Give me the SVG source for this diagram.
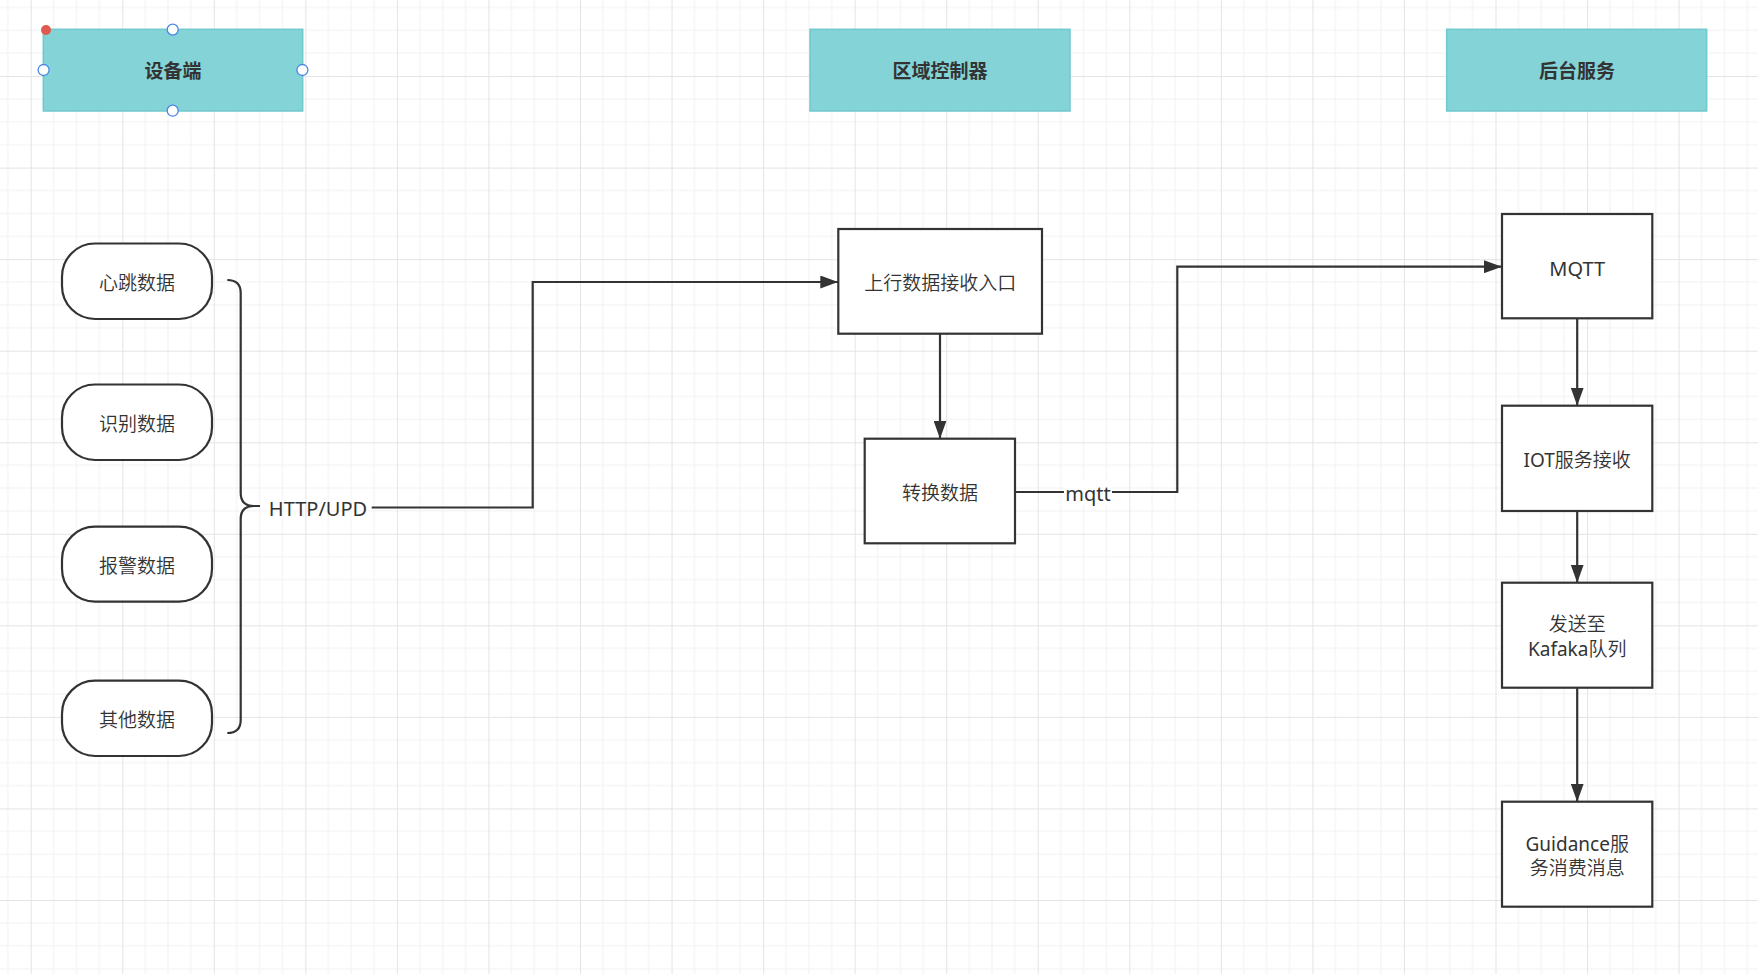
<svg xmlns="http://www.w3.org/2000/svg" width="1758" height="974" viewBox="0 0 1758 974">
  <style>
    .hdr { fill: #83d3d7; stroke: #70c9cd; stroke-width: 1.5; }
    .hdr-t { font-family: "Noto Sans", "Noto Sans CJK SC", sans-serif; font-size: 19px; font-weight: bold; fill: #333333; text-anchor: middle; dominant-baseline: central; }
    .box { fill: #ffffff; stroke: #333333; stroke-width: 2.2; }
    .t { font-family: "Noto Sans", "Noto Sans CJK SC", sans-serif; font-size: 19px; font-weight: 350; fill: #333333; text-anchor: middle; dominant-baseline: central; }
    .lat { font-size: 20px; font-weight: 400; }
    .w4 { font-weight: 400; }
    .edge { fill: none; stroke: #333333; stroke-width: 2.2; }
    .handle { fill: #ffffff; stroke: #4a86e8; stroke-width: 1.3; }
    .lbl-bg { fill: #ffffff; }
  </style>
  <defs>
    <pattern id="grid" patternUnits="userSpaceOnUse" x="30.7" y="-15.5" width="91.55" height="91.55">
      <path d="M22.89 0V91.55M45.78 0V91.55M68.66 0V91.55M0 22.89H91.55M0 45.78H91.55M0 68.66H91.55" stroke="#f1f1f1" stroke-width="1" fill="none"/>
      <path d="M0.5 0V91.55M0 0.5H91.55" stroke="#e4e4e4" stroke-width="1" fill="none"/>
    </pattern>
    <marker id="arrow" markerUnits="userSpaceOnUse" markerWidth="18" markerHeight="13" refX="18" refY="6.5" orient="auto">
      <path d="M0 0L18 6.5L0 13z" fill="#333333"/>
    </marker>
  </defs>

  <rect x="0" y="0" width="1758" height="974" fill="#ffffff"/>
  <rect x="0" y="0" width="1758" height="974" fill="url(#grid)"/>

  <!-- column headers -->
  <g id="hdr-device">
    <rect class="hdr" x="43.3" y="29.3" width="259.4" height="81.7"/>
    <text class="hdr-t" x="173" y="71.3">设备端</text>
  </g>
  <g id="hdr-region">
    <rect class="hdr" x="810" y="29.3" width="260" height="81.7"/>
    <text class="hdr-t" x="940" y="71.3">区域控制器</text>
  </g>
  <g id="hdr-backend">
    <rect class="hdr" x="1446.7" y="29.3" width="260" height="81.7"/>
    <text class="hdr-t" x="1577" y="71.3">后台服务</text>
  </g>

  <!-- selection handles on the device header -->
  <g id="selection">
    <circle cx="46" cy="30" r="5" fill="#e05a4f"/>
    <circle class="handle" cx="172.7" cy="29.6" r="5.5"/>
    <circle class="handle" cx="43.6" cy="70" r="5.5"/>
    <circle class="handle" cx="302.4" cy="70" r="5.5"/>
    <circle class="handle" cx="172.7" cy="110.7" r="5.5"/>
  </g>

  <!-- device data sources -->
  <g id="src-heartbeat">
    <rect class="box" x="62" y="243.5" width="150" height="75.5" rx="33" ry="33"/>
    <text class="t" x="137" y="283.3">心跳数据</text>
  </g>
  <g id="src-recognition">
    <rect class="box" x="62" y="384.5" width="150" height="75.5" rx="33" ry="33"/>
    <text class="t" x="137" y="424.3">识别数据</text>
  </g>
  <g id="src-alarm">
    <rect class="box" x="62" y="526.7" width="150" height="75" rx="33" ry="33"/>
    <text class="t" x="137" y="566.3">报警数据</text>
  </g>
  <g id="src-other">
    <rect class="box" x="62" y="680.7" width="150" height="75.3" rx="33" ry="33"/>
    <text class="t" x="137" y="720.3">其他数据</text>
  </g>

  <!-- brace grouping the sources -->
  <g id="brace">
    <path class="edge" d="M227.3 280Q240.7 280 240.7 293V493Q240.7 506 254 506H260M254 506Q240.7 506 240.7 519V720Q240.7 733 227.3 733"/>
  </g>

  <!-- region controller -->
  <g id="uplink-entry">
    <rect class="box" x="838.3" y="229" width="203.7" height="104.7"/>
    <text class="t" x="940.2" y="283.3">上行数据接收入口</text>
  </g>
  <g id="convert">
    <rect class="box" x="864.7" y="438.7" width="150.3" height="104.6"/>
    <text class="t" x="940" y="493.3">转换数据</text>
  </g>

  <!-- backend services -->
  <g id="mqtt">
    <rect class="box" x="1502" y="214" width="150.3" height="104.3"/>
    <text class="t lat" x="1577.2" y="268">MQTT</text>
  </g>
  <g id="iot-recv">
    <rect class="box" x="1502" y="405.7" width="150.3" height="105.3"/>
    <text class="t" x="1577.2" y="460"><tspan class="w4">IOT</tspan>服务接收</text>
  </g>
  <g id="kafka">
    <rect class="box" x="1502" y="582.7" width="150.3" height="105"/>
    <text class="t" x="1577.2" y="624">发送至</text>
    <text class="t" x="1577.2" y="648.5"><tspan class="w4">Kafaka</tspan>队列</text>
  </g>
  <g id="guidance">
    <rect class="box" x="1502" y="801.7" width="150.3" height="105"/>
    <text class="t" x="1577.2" y="844"><tspan class="w4">Guidance</tspan>服</text>
    <text class="t" x="1577.2" y="868">务消费消息</text>
  </g>

  <!-- connectors -->
  <g id="connectors">
    <path class="edge" d="M371.7 507.5H532.7V282H838.3" marker-end="url(#arrow)"/>
    <text class="t lat" x="318" y="508">HTTP/UPD</text>
    <path class="edge" d="M940 333.7V438.7" marker-end="url(#arrow)"/>
    <path class="edge" d="M1015 492H1177.3V266.7H1502" marker-end="url(#arrow)"/>
    <rect class="lbl-bg" x="1064" y="480" width="48" height="24"/>
    <text class="t lat" x="1088" y="493">mqtt</text>
    <path class="edge" d="M1577.2 318.3V405.7" marker-end="url(#arrow)"/>
    <path class="edge" d="M1577.2 511V582.7" marker-end="url(#arrow)"/>
    <path class="edge" d="M1577.2 687.7V801.7" marker-end="url(#arrow)"/>
  </g>
</svg>
